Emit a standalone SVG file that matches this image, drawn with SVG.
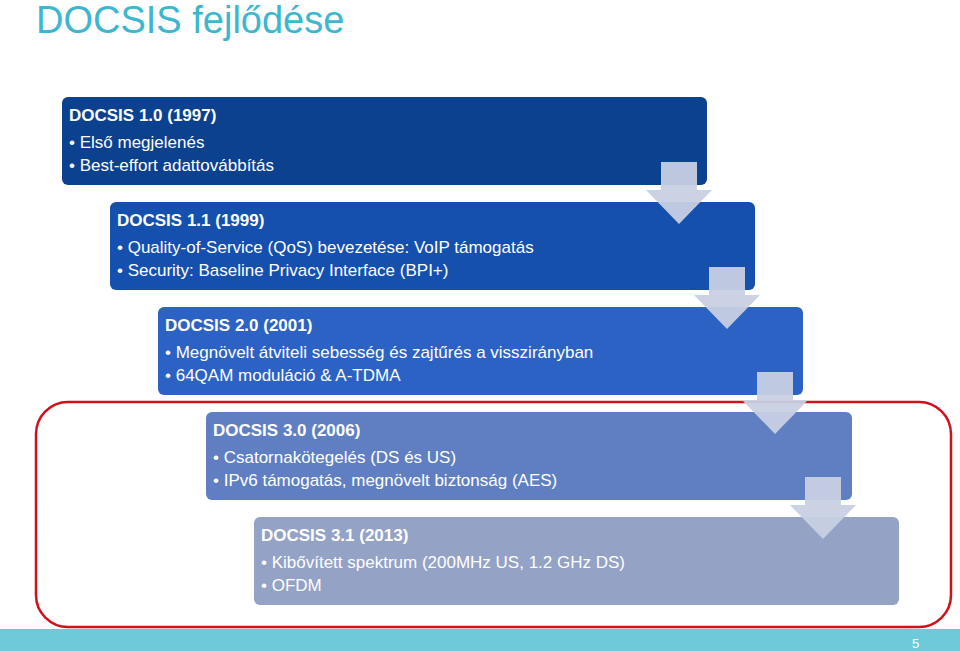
<svg xmlns="http://www.w3.org/2000/svg" width="960" height="651" viewBox="0 0 960 651">
<style>
text{font-family:"Liberation Sans",Arial,sans-serif;fill:#fff}
.h{font-size:17px;font-weight:bold}
.b{font-size:17px}
.arr{fill:#c7d0e3;opacity:0.95}
</style>
<defs>
<path id="ar" class="arr" d="M15 0H51V28H66L33 62L0 28H15Z"/>
</defs>
<rect width="960" height="651" fill="#fff"/>
<text x="36" y="33" style="font-size:38px;fill:#3db7cf">DOCSIS fejlődése</text>
<rect x="0" y="629" width="960" height="22" fill="#6ecad9"/>
<text x="912" y="648" style="font-size:13px">5</text>
<rect x="36" y="402" width="915" height="225" rx="32" fill="none" stroke="#d0101a" stroke-width="2.5"/>
<g id="n1"><rect x="62" y="97" width="645" height="88" rx="6" fill="#0b418e"/>
<text class="h" x="69" y="121">DOCSIS 1.0 (1997)</text>
<text class="b" x="69" y="148">• Első megjelenés</text>
<text class="b" x="69" y="171">• Best-effort adattovábbítás</text></g>
<g id="n2"><rect x="110" y="202" width="645" height="88" rx="6" fill="#1550ae"/>
<text class="h" x="117" y="226">DOCSIS 1.1 (1999)</text>
<text class="b" x="117" y="253">• Quality-of-Service (QoS) bevezetése: VoIP támogatás</text>
<text class="b" x="117" y="276">• Security: Baseline Privacy Interface (BPI+)</text></g>
<g id="n3"><rect x="158" y="307" width="645" height="88" rx="6" fill="#2c62c4"/>
<text class="h" x="165" y="331">DOCSIS 2.0 (2001)</text>
<text class="b" x="165" y="358">• Megnövelt átviteli sebesség és zajtűrés a visszirányban</text>
<text class="b" x="165" y="381">• 64QAM moduláció &amp; A-TDMA</text></g>
<g id="n4"><rect x="206" y="412" width="646" height="88" rx="6" fill="#607fc3"/>
<text class="h" x="213" y="436">DOCSIS 3.0 (2006)</text>
<text class="b" x="213" y="463">• Csatornakötegelés (DS és US)</text>
<text class="b" x="213" y="486">• IPv6 támogatás, megnövelt biztonság (AES)</text></g>
<g id="n5"><rect x="254" y="517" width="645" height="88" rx="6" fill="#93a2c5"/>
<text class="h" x="261" y="541">DOCSIS 3.1 (2013)</text>
<text class="b" x="261" y="568">• Kibővített spektrum (200MHz US, 1.2 GHz DS)</text>
<text class="b" x="261" y="591">• OFDM</text></g>
<g id="connectors">
<use href="#ar" x="646" y="162"/>
<use href="#ar" x="694" y="267"/>
<use href="#ar" x="742" y="372"/>
<use href="#ar" x="790" y="477"/>
</g>
</svg>
